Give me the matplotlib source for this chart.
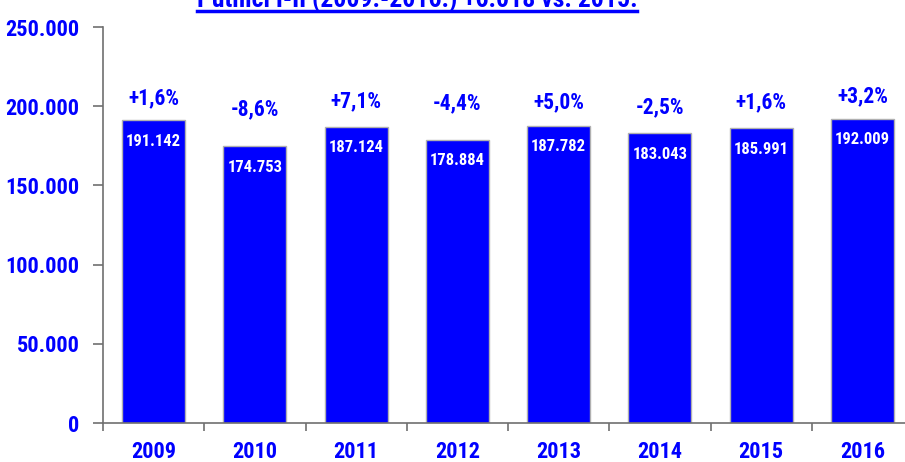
import matplotlib
matplotlib.use("Agg")
import matplotlib.pyplot as plt
from matplotlib import font_manager
from matplotlib.lines import Line2D

years = ["2009", "2010", "2011", "2012", "2013", "2014", "2015", "2016"]
values = [191142, 174753, 187124, 178884, 187782, 183043, 185991, 192009]
pct_labels = ["+1,6%", "-8,6%", "+7,1%", "-4,4%", "+5,0%", "-2,5%", "+1,6%", "+3,2%"]
y_ticks = [0, 50000, 100000, 150000, 200000, 250000]
y_tick_labels = ["0", "50.000", "100.000", "150.000", "200.000", "250.000"]
title = "Putnici I-II (2009.-2016.) +6.018 vs. 2015."

# styling offsets (pixels above bar top) for the change labels
pct_offsets = [22, 37, 25, 36, 23, 26, 26, 23]

names = {f.name for f in font_manager.fontManager.ttflist}
fam = ["Roboto Condensed", "PT Sans Narrow", "Liberation Sans", "DejaVu Sans"]
plt.rcParams["font.family"] = [f for f in fam if f in names] or ["DejaVu Sans"]

BLUE = "#0000FF"
W, H, DPI = 905, 462, 100
fig = plt.figure(figsize=(W / DPI, H / DPI), dpi=DPI)

left, right, top, bottom = 103, 913, 27, 423
ax = fig.add_axes([left / W, 1 - bottom / H, (right - left) / W, (bottom - top) / H])

x = list(range(len(years)))
bars = ax.bar(x, values, width=0.62, color=BLUE, edgecolor="#B0B0B0", linewidth=1.0, zorder=2)
ax.set_xlim(-0.5, len(years) - 0.5)
ax.set_ylim(0, 250000)

for i, (v, lab, off) in enumerate(zip(values, pct_labels, pct_offsets)):
    ax.annotate(f"{v:,}".replace(",", "."), (i, v), xytext=(0, -21), textcoords="offset pixels",
                ha="center", va="center", color="white", fontsize=12, fontweight="bold")
    ax.annotate(lab, (i, v), xytext=(0, off), textcoords="offset pixels",
                ha="center", va="center", color=BLUE, fontsize=15.5, fontweight="bold")

ax.set_yticks(y_ticks)
ax.set_yticklabels(y_tick_labels, color=BLUE, fontsize=16, fontweight="bold")
ax.set_xticks([i - 0.5 for i in range(len(years))] + [len(years) - 0.5])
ax.set_xticklabels([])
ax.set_xticks(x, minor=True)
ax.set_xticklabels(years, minor=True, color=BLUE, fontsize=16, fontweight="bold")
ax.tick_params(axis="x", which="minor", length=0, pad=13)
ax.tick_params(axis="x", which="major", length=6, color="#707070", width=1.2)
ax.tick_params(axis="y", length=7, color="#707070", width=1.2, pad=10)

for s in ["top", "right"]:
    ax.spines[s].set_visible(False)
for s in ["left", "bottom"]:
    ax.spines[s].set_color("#707070")
    ax.spines[s].set_linewidth(1.2)

t = fig.text(417 / W, 1 - 7 / H, title, ha="center", va="baseline", color=BLUE,
             fontsize=18.5, fontweight="bold")
fig.canvas.draw()
bb = t.get_window_extent()
uy = 1 - 10.5 / H
fig.add_artist(Line2D([bb.x0 / W, bb.x1 / W], [uy, uy], color=BLUE, linewidth=2.5,
                      transform=fig.transFigure))

fig.savefig("out.png", dpi=DPI)
